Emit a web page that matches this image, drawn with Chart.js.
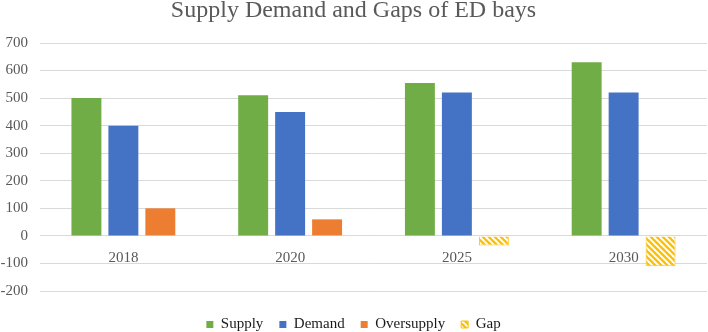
<!DOCTYPE html>
<html>
<head>
<meta charset="utf-8">
<script src="https://cdn.jsdelivr.net/npm/chart.js@4.4.1/dist/chart.umd.min.js"></script>
<style>
  html, body { margin: 0; padding: 0; background: #fff; }
  #wrap { width: 708px; height: 332px; }
</style>
</head>
<body>
<div id="wrap"><canvas id="chart"></canvas></div>
<script>
// values
const years = ['2018', '2020', '2025', '2030'];
const supply = [500, 510, 555, 630];
const demand = [400, 450, 520, 520];
const oversupply = [100, 60, null, null];
const gap = [null, null, -35, -110];

const yTicks = [-200, -100, 0, 100, 200, 300, 400, 500, 600, 700];

function makeHatch() {
    const c = document.createElement('canvas');
    c.width = 6;
    c.height = 6;
    const g = c.getContext('2d');
    g.fillStyle = '#ffffff';
    g.fillRect(0, 0, 6, 6);
    g.strokeStyle = '#FFC000';
    g.lineWidth = 2.4;
    [-6, 0, 6].forEach(off => {
        g.beginPath();
        g.moveTo(off - 1, -1);
        g.lineTo(off + 7, 7);
        g.stroke();
    });
    return g.createPattern(c, 'repeat');
}

const serif = "'Liberation Serif', 'Times New Roman', serif";
Chart.defaults.font.family = serif;

const ctx = document.getElementById('chart').getContext('2d');
new Chart(ctx, {
    type: 'bar',
    data: {
        labels: years,
        datasets: [
            { label: 'Supply', data: supply, backgroundColor: '#70AD47', stack: 's' },
            { label: 'Demand', data: demand, backgroundColor: '#4472C4', stack: 'd' },
            { label: 'Oversupply', data: oversupply, backgroundColor: '#ED7D31', stack: 'o' },
            { label: 'Gap', data: gap, backgroundColor: makeHatch(), borderColor: '#FFC000', borderWidth: 1, stack: 'o' }
        ]
    },
    options: {
        responsive: true,
        maintainAspectRatio: false,
        animation: false,
        categoryPercentage: 0.665,
        barPercentage: 0.81,
        layout: { padding: { left: 0, right: 1, top: -4, bottom: 0 } },
        plugins: {
            title: {
                display: true,
                text: 'Supply Demand and Gaps of ED bays',
                color: '#595959',
                font: { family: serif, size: 24, weight: 'normal' },
                padding: { top: 0, bottom: 18.2 }
            },
            legend: {
                position: 'bottom',
                maxHeight: 31,
                labels: {
                    boxWidth: 7,
                    boxHeight: 7,
                    color: '#1a1a1a',
                    padding: 16,
                    font: { family: serif, size: 15 }
                }
            },
            tooltip: { enabled: false }
        },
        scales: {
            x: {
                position: { y: 0 },
                grid: { display: false },
                border: { display: false },
                ticks: {
                    color: '#595959',
                    padding: 5,
                    font: { family: serif, size: 15 }
                }
            },
            // empty axis only keeps a gap between plot and legend
            xSpace: {
                type: 'category',
                position: 'bottom',
                grid: { display: false },
                border: { display: false },
                ticks: { display: false },
                afterFit: axis => { axis.height = 10; }
            },
            y: {
                stacked: true,
                min: -200,
                max: 700,
                afterFit: axis => { axis.width = 40; },
                afterBuildTicks: axis => { axis.ticks = yTicks.map(v => ({ value: v })); },
                grid: { color: '#D9D9D9', lineWidth: 1, drawTicks: false },
                border: { display: false },
                ticks: {
                    color: '#595959',
                    padding: 12,
                    font: { family: serif, size: 15 }
                }
            }
        }
    }
});
</script>
</body>
</html>
